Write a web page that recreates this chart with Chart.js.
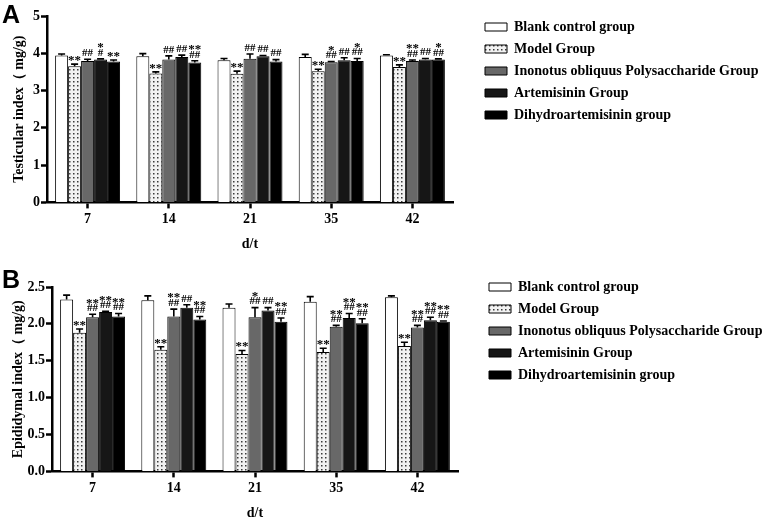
<!DOCTYPE html>
<html>
<head>
<meta charset="utf-8">
<script src="https://cdn.jsdelivr.net/npm/chart.js@4.4.1/dist/chart.umd.min.js"></script>
<style>
  html, body { margin: 0; padding: 0; background: #fff; }
  body { width: 767px; height: 518px; position: relative; overflow: hidden; }
  canvas { position: absolute; left: 0; }
  #panelA { top: 0; }
  #panelB { top: 256px; }
</style>
</head>
<body>
<canvas id="panelA" width="767" height="256"></canvas>
<canvas id="panelB" width="767" height="266"></canvas>
<script>
const days = ["7", "14", "21", "35", "42"];
const groupNames = [
  "Blank control group",
  "Model Group",
  "Inonotus obliquus Polysaccharide Group",
  "Artemisinin Group",
  "Dihydroartemisinin group"
];

// Panel A - testicular index (mg/g), mean and error
const testBlank = [3.94, 3.92, 3.81, 3.90, 3.94];
const testModel = [3.65, 3.46, 3.45, 3.52, 3.63];
const testIOP = [3.79, 3.83, 3.85, 3.76, 3.79];
const testArt = [3.83, 3.90, 3.92, 3.81, 3.83];
const testDHA = [3.78, 3.75, 3.78, 3.79, 3.83];
const testBlankErr = [0.04, 0.07, 0.05, 0.07, 0.02];
const testModelErr = [0.06, 0.04, 0.07, 0.05, 0.06];
const testIOPErr = [0.05, 0.10, 0.13, 0.02, 0.03];
const testArtErr = [0.02, 0.05, 0.02, 0.07, 0.03];
const testDHAErr = [0.04, 0.05, 0.05, 0.07, 0.02];
const testModelSig = [["**"], ["**"], ["**"], ["**"], ["**"]];
const testIOPSig = [["##"], ["##"], ["##"], ["*", "##"], ["**", "##"]];
const testArtSig = [["*", "#"], ["##"], ["##"], ["##"], ["##"]];
const testDHASig = [["**"], ["**", "##"], ["##"], ["*", "##"], ["*", "##"]];

// Panel B - epididymal index (mg/g), mean and error
const epiBlank = [2.33, 2.32, 2.22, 2.30, 2.36];
const epiModel = [1.88, 1.65, 1.59, 1.62, 1.70];
const epiIOP = [2.09, 2.10, 2.09, 1.96, 1.95];
const epiArt = [2.16, 2.22, 2.18, 2.08, 2.05];
const epiDHA = [2.10, 2.06, 2.03, 2.01, 2.03];
const epiBlankErr = [0.06, 0.06, 0.05, 0.07, 0.02];
const epiModelErr = [0.05, 0.04, 0.05, 0.05, 0.05];
const epiIOPErr = [0.04, 0.10, 0.13, 0.02, 0.03];
const epiArtErr = [0.01, 0.04, 0.04, 0.06, 0.04];
const epiDHAErr = [0.04, 0.04, 0.05, 0.06, 0.01];
const epiModelSig = [["**"], ["**"], ["**"], ["**"], ["**"]];
const epiIOPSig = [["**", "##"], ["**", "##"], ["*", "##"], ["**", "##"], ["**", "##"]];
const epiArtSig = [["**", "##"], ["##"], ["##"], ["**", "##"], ["**", "##"]];
const epiDHASig = [["**", "##"], ["**", "##"], ["**", "##"], ["**", "##"], ["**", "##"]];

const noSig = [[], [], [], [], []];
const serif = "'Liberation Serif', 'Times New Roman', serif";

function dotPattern() {
  const tile = document.createElement("canvas");
  tile.width = 4;
  tile.height = 4;
  const c = tile.getContext("2d");
  c.fillStyle = "#f2f2f2";
  c.fillRect(0, 0, 4, 4);
  c.fillStyle = "#3a3a3a";
  c.fillRect(1, 1, 1.5, 1.5);
  return c.createPattern(tile, "repeat");
}

const groupFills = ["#ffffff", dotPattern(), "#686868", "#161616", "#000000"];

// error bars (upper only) plus significance marks above them
const errorBars = {
  id: "errorBars",
  afterDatasetsDraw(chart) {
    const ctx = chart.ctx;
    const y = chart.scales.y;
    ctx.save();
    ctx.strokeStyle = "#000";
    ctx.fillStyle = "#000";
    ctx.lineWidth = 1.6;
    ctx.textAlign = "center";
    ctx.textBaseline = "middle";
    chart.data.datasets.forEach((ds, i) => {
      chart.getDatasetMeta(i).data.forEach((bar, j) => {
        const top = y.getPixelForValue(ds.data[j] + ds.errors[j]);
        ctx.beginPath();
        ctx.moveTo(bar.x, bar.y);
        ctx.lineTo(bar.x, top);
        ctx.moveTo(bar.x - 3.5, top);
        ctx.lineTo(bar.x + 3.5, top);
        ctx.stroke();
        const marks = ds.marks[j].slice().reverse();
        marks.forEach((m, k) => {
          const star = m.startsWith("*");
          ctx.font = (star ? "bold 13px " : "bold 11px ") + serif;
          ctx.fillText(m, bar.x, top - 6 - k * 7.5 + (star ? 2.5 : 0));
        });
      });
    });
    ctx.restore();
  }
};

// fixed legend width and an offset so it sits where the figure has it
const legendSpot = {
  id: "legendSpot",
  beforeLayout(chart, args, opts) {
    const legend = chart.legend;
    if (!legend || legend.fixedWidth) return;
    const fit = legend.fit.bind(legend);
    legend.fit = function () { fit(); this.width = opts.width; };
    legend.fixedWidth = true;
  },
  afterLayout(chart, args, opts) {
    const legend = chart.legend;
    legend.left += opts.dx;
    legend.right += opts.dx;
    legend.top += opts.dy;
    legend.bottom += opts.dy;
  }
};

const panelTag = {
  id: "panelTag",
  afterDraw(chart, args, opts) {
    const ctx = chart.ctx;
    ctx.save();
    ctx.font = "bold 25px 'Liberation Sans', Arial, sans-serif";
    ctx.fillStyle = "#000";
    ctx.fillText(opts.text, opts.x, opts.y);
    ctx.restore();
  }
};

function makePanel(id, p) {
  const datasets = groupNames.map((name, i) => ({
    label: name,
    data: p.values[i],
    errors: p.errors[i],
    marks: p.marks[i],
    backgroundColor: groupFills[i],
    borderColor: "#000",
    borderWidth: 1,
    categoryPercentage: 0.8,
    barPercentage: 1.0
  }));

  new Chart(document.getElementById(id), {
    type: "bar",
    data: { labels: days, datasets },
    plugins: [errorBars, legendSpot, panelTag],
    options: {
      responsive: false,
      animation: false,
      events: [],
      layout: { padding: { top: p.top, bottom: p.bottom, left: 0, right: 0 } },
      scales: {
        x: {
          grid: { display: true, offset: false, drawOnChartArea: false, tickLength: 6, tickWidth: 2.5, tickColor: "#000" },
          border: { display: true, color: "#000", width: 2.5 },
          ticks: { color: "#000", padding: 3, font: { family: serif, size: 14, weight: "bold" } },
          title: { display: true, text: "d/t", color: "#000", padding: { top: 5, bottom: 0 }, font: { family: serif, size: 14, weight: "bold" } }
        },
        y: {
          min: 0,
          max: p.max,
          afterFit(scale) { scale.width = p.axisWidth; },
          grid: { display: true, drawOnChartArea: false, tickLength: 6, tickWidth: 2.5, tickColor: "#000" },
          border: { display: true, color: "#000", width: 2.5 },
          ticks: {
            stepSize: p.step,
            padding: 1,
            color: "#000",
            font: { family: serif, size: 14, weight: "bold" },
            callback: (v) => p.step < 1 ? Number(v).toFixed(1) : v
          },
          title: { display: true, text: p.yTitle, color: "#000", padding: { top: p.titlePad, bottom: 0 }, font: { family: serif, size: 14, weight: "bold" } }
        }
      },
      plugins: {
        tooltip: { enabled: false },
        legend: {
          position: "right",
          align: "start",
          labels: { boxWidth: 22, boxHeight: 8, padding: 8, color: "#000", font: { family: serif, size: 14, weight: "bold" } }
        },
        legendSpot: { width: p.legendWidth, dx: p.legendDx, dy: p.legendDy },
        panelTag: { text: p.tag, x: 2, y: p.tagY }
      }
    }
  });
}

makePanel("panelA", {
  values: [testBlank, testModel, testIOP, testArt, testDHA],
  errors: [testBlankErr, testModelErr, testIOPErr, testArtErr, testDHAErr],
  marks: [noSig, testModelSig, testIOPSig, testArtSig, testDHASig],
  max: 5, step: 1,
  yTitle: "Testicular index\uff08 mg/g)",
  top: 16, bottom: 3,
  axisWidth: 47, titlePad: 11,
  legendWidth: 314, legendDx: 24, legendDy: -4,
  tag: "A", tagY: 23
});

makePanel("panelB", {
  values: [epiBlank, epiModel, epiIOP, epiArt, epiDHA],
  errors: [epiBlankErr, epiModelErr, epiIOPErr, epiArtErr, epiDHAErr],
  marks: [noSig, epiModelSig, epiIOPSig, epiArtSig, epiDHASig],
  max: 2.5, step: 0.5,
  yTitle: "Epididymal index\uff08 mg/g)",
  top: 31, bottom: 0,
  axisWidth: 52, titlePad: 10,
  legendWidth: 309, legendDx: 23, legendDy: -15,
  tag: "B", tagY: 32
});
</script>
</body>
</html>
